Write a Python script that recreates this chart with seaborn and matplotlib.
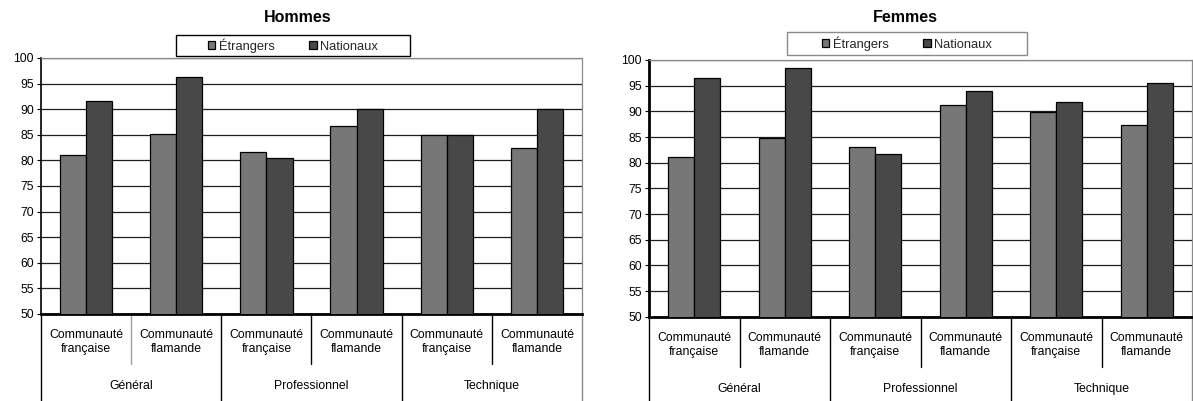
import matplotlib
matplotlib.use("Agg")
import matplotlib.pyplot as plt
from matplotlib.patches import Rectangle
from matplotlib.lines import Line2D
import seaborn as sns
import pandas as pd

# Categories: three tracks, each split by community
filieres = ["Général", "Professionnel", "Technique"]
communautes = ["Communauté\nfrançaise", "Communauté\nflamande"]
series = ["Étrangers", "Nationaux"]

# Rates per slot (Général CF, Général FL, Prof. CF, Prof. FL, Tech. CF, Tech. FL)
hommes_etrangers = [81.1, 85.2, 81.6, 86.8, 85.0, 82.5]
hommes_nationaux = [91.6, 96.3, 80.5, 90.1, 85.0, 90.1]
femmes_etrangers = [81.1, 84.8, 83.0, 91.3, 89.9, 87.4]
femmes_nationaux = [96.4, 98.4, 81.6, 93.9, 91.8, 95.6]

y_ticks = list(range(50, 101, 5))

W, H, DPI = 1193, 401, 100
sns.set_theme(style="white")
plt.rcParams["font.family"] = ["Liberation Sans", "DejaVu Sans"]

fig = plt.figure(figsize=(W / DPI, H / DPI), dpi=DPI)
fig.patch.set_facecolor("white")

palette = {"Étrangers": "#777777", "Nationaux": "#484848"}

slots = [f"{f} – {c}" for f in filieres for c in communautes]


def px_box(x0, y0, x1, y1):
    return [x0 / W, 1 - y1 / H, (x1 - x0) / W, (y1 - y0) / H]


def draw_panel(ax, etr, nat, titre, title_xy, legend_rect, legend_edge,
               left_lw, inner_first_color):
    df = pd.DataFrame({
        "slot": slots * 2,
        "serie": [series[0]] * len(slots) + [series[1]] * len(slots),
        "taux": list(etr) + list(nat),
    })
    sns.barplot(data=df, x="slot", y="taux", hue="serie", order=slots,
                hue_order=series, palette=palette, width=0.58,
                edgecolor="black", linewidth=0.9, saturation=1,
                ax=ax, zorder=3)
    handles, labels = ax.get_legend_handles_labels()
    ax.get_legend().remove()

    ax.set_xlim(-0.5, len(slots) - 0.5)
    ax.set_ylim(50, 100)
    ax.set_yticks(y_ticks)
    ax.set_xticks([])
    ax.set_xlabel("")
    ax.set_ylabel("")
    ax.set_facecolor("white")
    ax.yaxis.grid(True, color="#1e1e1e", linewidth=0.9)
    ax.set_axisbelow(True)
    ax.tick_params(axis="y", left=True, length=3, width=0.8, direction="out",
                   color="black", labelsize=8.8, pad=2, labelcolor="black")

    for side in ("top", "right"):
        ax.spines[side].set_color("#8a8a8a")
        ax.spines[side].set_linewidth(0.9)
    ax.spines["left"].set_color("black")
    ax.spines["left"].set_linewidth(left_lw)
    ax.spines["bottom"].set_color("black")
    ax.spines["bottom"].set_linewidth(2.0)

    # Two-level category axis drawn under the plot area
    ax_h = ax.get_position().height * H
    ax_bottom_px = (1 - ax.get_position().y0) * H
    trans = ax.get_xaxis_transform()
    long_len = (H - ax_bottom_px) / ax_h
    short_len = 50 / ax_h
    n = len(slots)
    for k in range(n + 1):
        xb = k - 0.5
        if k in (0, n) or k % 2 == 0:
            y_end = -long_len
        else:
            y_end = -short_len
        color = "black"
        if k == n:
            color = "#8a8a8a"
        if k == 1:
            color = inner_first_color
        ax.add_line(Line2D([xb, xb], [0, y_end], transform=trans,
                           color=color, linewidth=1.0, clip_on=False))

    for i, s in enumerate(slots):
        ax.text(i, -28 / ax_h, communautes[i % 2], transform=trans,
                ha="center", va="center", fontsize=8.8, linespacing=1.2,
                color="black")
    for j, f in enumerate(filieres):
        ax.text(2 * j + 0.5, -72 / ax_h, f, transform=trans,
                ha="center", va="center", fontsize=8.8, color="black")

    fig.text(title_xy[0] / W, 1 - title_xy[1] / H, titre, ha="center",
             va="center", fontsize=11.5, fontweight="bold", color="black")

    x0, y0, x1, y1 = legend_rect
    fig.patches.append(Rectangle((x0 / W, 1 - y1 / H), (x1 - x0) / W,
                                 (y1 - y0) / H, transform=fig.transFigure,
                                 facecolor="white", edgecolor=legend_edge,
                                 linewidth=1.0))
    fig.legend(handles, labels, ncol=2, loc="center",
               bbox_to_anchor=(((x0 + x1) / 2) / W, 1 - ((y0 + y1) / 2) / H),
               bbox_transform=fig.transFigure, frameon=False, fontsize=9.3,
               handlelength=0.6, handleheight=0.6, handletextpad=0.25,
               columnspacing=2.7, borderpad=0)


ax_h = fig.add_axes(px_box(41, 58, 582, 314))
ax_f = fig.add_axes(px_box(649, 60, 1192, 316.7))

draw_panel(ax_h, hommes_etrangers, hommes_nationaux, "Hommes", (298, 18),
           (176, 35, 410, 56), "black", 1.2, "#a0a0a0")
draw_panel(ax_f, femmes_etrangers, femmes_nationaux, "Femmes", (905, 17),
           (787, 32, 1027, 55), "#8a8a8a", 2.0, "black")

fig.savefig("out.png", dpi=DPI, facecolor="white")
